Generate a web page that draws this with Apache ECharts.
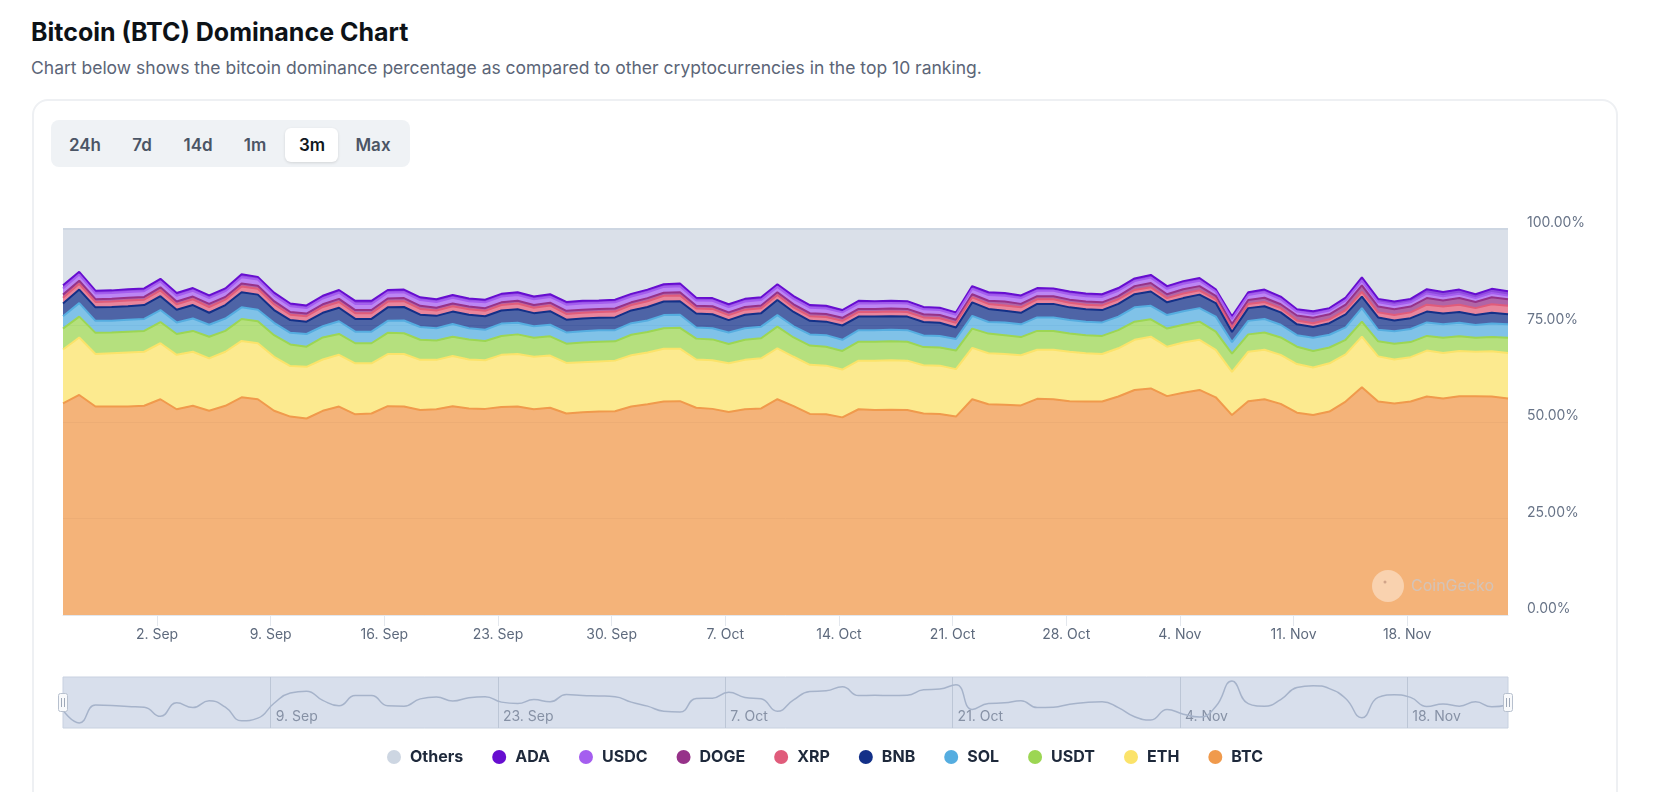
<!DOCTYPE html>
<html><head><meta charset="utf-8">
<script src="https://cdn.jsdelivr.net/npm/echarts@6/dist/echarts.min.js"></script>
<style>
html,body{margin:0;padding:0;background:#fff;width:1668px;height:792px;overflow:hidden;font-family:Inter,"Noto Sans",sans-serif;}
#title{position:absolute;left:31px;top:16px;font-size:25px;line-height:32px;font-weight:700;color:#0d1217;white-space:nowrap}
#sub{position:absolute;left:31px;top:56px;font-size:17.5px;line-height:24px;color:#5b6577;white-space:nowrap}
#card{position:absolute;left:32px;top:99px;width:1586px;height:800px;border:2px solid #eef0f3;border-radius:16px;box-sizing:border-box}
#btns{position:absolute;left:51px;top:120px;width:359px;height:47px;background:#eff2f5;border-radius:8px}
#act{position:absolute;left:285px;top:128px;width:53px;height:34px;background:#fff;border-radius:6px;box-shadow:0 1px 3px rgba(0,0,0,0.12)}
.b{position:absolute;top:145px;transform:translate(-50%,-50%);font-size:17px;font-weight:600;color:#4b5565;white-space:nowrap}
#chart{position:absolute;left:0;top:0;width:1668px;height:792px}
</style></head>
<body>
<div id="title">Bitcoin (BTC) Dominance Chart</div>
<div id="sub">Chart below shows the bitcoin dominance percentage as compared to other cryptocurrencies in the top 10 ranking.</div>
<div id="card"></div>
<div id="btns"></div>
<div id="act"></div>
<div class="b" style="left:85px">24h</div>
<div class="b" style="left:142px">7d</div>
<div class="b" style="left:198px">14d</div>
<div class="b" style="left:255px">1m</div>
<div class="b" style="left:312px;color:#0f1720">3m</div>
<div class="b" style="left:373px">Max</div>
<div id="chart"></div>
<script>
// ---- data (daily, 27 Aug 2024 - 24 Nov 2024), dominance in % ----
const START_DAY = '2024-08-27';
const BTC = [54.8,57.0,54.0,54.0,54.0,54.2,55.9,53.3,54.2,52.9,
54.2,56.4,55.9,52.9,51.4,50.9,52.9,54.0,52.0,52.2,
54.1,54.0,53.1,53.3,54.1,53.5,53.4,53.9,54.0,53.3,
53.7,52.2,52.5,52.7,52.8,54.0,54.6,55.3,55.4,53.7,
53.4,52.6,53.3,53.5,55.9,54.1,52.1,52.0,51.2,53.3,
53.1,53.2,53.1,52.2,52.1,51.4,55.9,54.6,54.5,54.3,
56.0,55.9,55.4,55.3,55.3,56.6,58.3,58.7,56.7,57.6,
58.3,56.4,51.8,55.4,55.9,54.7,52.4,51.8,52.7,55.3,
59.0,55.3,54.8,55.3,56.6,56.1,56.7,56.7,56.6,56.1];
const ETH = [14.0,14.9,13.6,13.8,14.0,14.0,14.5,14.1,14.0,13.6,
14.0,14.6,14.5,14.0,13.1,13.4,13.3,13.4,13.2,13.0,
13.5,13.6,13.0,12.8,13.0,12.7,12.6,13.5,13.6,13.6,
13.5,13.1,13.0,13.0,13.1,13.3,13.4,13.7,13.6,12.5,
12.6,12.6,12.8,13.0,13.2,12.8,12.7,12.6,12.4,12.6,
12.8,12.8,12.8,12.5,12.5,12.3,13.3,13.2,13.1,13.0,
12.7,12.8,12.8,12.5,12.3,12.5,13.0,13.4,12.8,13.0,
13.0,12.3,11.2,12.8,12.8,12.7,12.6,12.3,12.5,12.2,
13.1,11.7,11.4,11.5,11.9,11.8,11.7,11.5,11.7,11.8];
const USDT = [5.4,5.4,5.5,5.4,5.4,5.4,5.5,5.4,5.4,5.6,
5.4,5.7,5.7,5.6,5.6,5.2,5.7,5.4,5.2,5.2,
5.5,5.4,5.2,5.0,5.0,5.2,5.0,4.9,5.1,4.9,
5.0,5.0,5.1,5.1,5.0,5.3,5.3,5.3,5.4,5.4,
5.4,5.0,5.2,5.2,5.6,5.0,5.0,4.9,4.8,4.9,
4.9,4.9,4.9,4.7,4.7,4.8,5.0,5.1,4.9,4.7,
4.9,4.9,4.7,4.7,4.7,4.7,4.7,4.5,4.7,4.6,
4.7,4.7,4.7,4.5,4.5,4.5,4.5,4.3,4.1,3.8,
3.9,3.9,4.1,3.9,3.8,3.9,3.8,3.6,3.7,3.9];
const SOL = [3.2,3.5,3.1,3.0,3.1,3.1,3.1,3.0,3.2,3.1,
3.2,3.0,3.0,3.2,3.0,3.3,2.9,3.3,3.0,3.0,
3.1,3.3,3.3,3.2,3.3,2.9,2.9,3.2,3.0,3.0,
3.0,2.9,2.9,3.0,2.9,3.0,3.0,3.4,3.4,2.9,
2.9,3.0,3.0,3.0,3.0,2.9,2.9,3.0,2.9,3.0,
3.0,3.0,3.0,3.0,3.0,3.0,3.3,3.0,3.3,3.3,
3.5,3.5,3.5,3.5,3.5,3.5,3.7,3.5,3.5,3.5,
3.5,3.9,3.0,3.5,3.5,3.3,3.0,3.4,3.3,3.2,
3.5,3.0,3.2,3.4,3.5,3.5,3.5,3.3,3.5,3.5];
const BNB = [3.3,3.5,3.5,3.6,3.5,3.6,3.6,3.3,3.5,3.1,
3.5,3.9,3.9,3.3,3.3,3.2,3.5,3.5,3.3,3.3,
3.5,3.5,3.2,3.2,3.2,3.5,3.5,3.4,3.5,3.4,
3.5,3.3,3.3,3.2,3.3,3.3,3.5,3.5,3.5,3.6,
3.6,3.2,3.5,3.5,3.9,3.7,3.5,3.5,3.7,3.5,
3.5,3.5,3.5,3.5,3.4,3.0,3.5,3.4,3.0,3.0,
3.5,3.5,3.3,3.2,3.2,3.3,3.4,3.7,3.3,3.4,
3.5,3.5,2.6,3.3,3.3,3.2,2.8,2.8,3.0,3.4,
3.0,3.2,2.8,2.8,2.8,2.8,2.8,2.6,2.8,2.6];
const XRP = [1.5,1.5,1.4,1.4,1.5,1.4,1.5,1.4,1.5,1.5,
1.4,1.5,1.5,1.5,1.4,1.4,1.5,1.5,1.5,1.5,
1.5,1.5,1.5,1.4,1.4,1.4,1.4,1.4,1.5,1.4,
1.5,1.5,1.5,1.5,1.5,1.4,1.5,1.5,1.5,1.3,
1.4,1.3,1.3,1.3,1.3,1.2,1.2,1.2,1.2,1.2,
1.2,1.2,1.2,1.2,1.2,1.2,1.3,1.3,1.4,1.4,
1.2,1.2,1.2,1.2,1.2,1.2,1.1,1.1,1.1,1.2,
1.1,1.0,1.1,1.1,1.1,1.1,1.0,1.0,1.0,1.1,
1.2,1.3,1.4,1.5,1.8,1.8,1.9,1.8,2.2,2.2];
const DOGE = [0.8,0.8,0.7,0.7,0.7,0.7,0.8,0.7,0.7,0.8,
0.7,0.8,0.8,0.8,0.7,0.7,0.7,0.8,0.8,0.8,
0.8,0.8,0.8,0.7,0.7,0.7,0.7,0.7,0.7,0.7,
0.7,0.8,0.8,0.8,0.8,0.7,0.8,0.8,0.8,0.7,
0.7,0.7,0.7,0.7,0.7,0.8,0.8,0.8,0.8,0.8,
0.8,0.8,0.8,0.8,0.8,0.8,0.8,0.8,1.0,0.9,
0.8,0.8,0.8,0.8,0.8,0.8,1.0,1.1,1.0,1.1,
1.1,0.9,1.0,1.0,1.1,1.0,1.3,1.4,1.3,1.4,
1.7,1.5,1.5,1.5,1.7,1.6,1.7,1.6,1.8,1.7];
const USDC = [1.6,1.6,1.5,1.5,1.5,1.5,1.5,1.5,1.5,1.5,
1.5,1.6,1.6,1.5,1.5,1.4,1.5,1.6,1.6,1.6,
1.5,1.5,1.5,1.5,1.5,1.4,1.5,1.5,1.5,1.5,
1.5,1.6,1.6,1.5,1.6,1.5,1.5,1.5,1.6,1.4,
1.4,1.4,1.4,1.4,1.4,1.4,1.4,1.4,1.4,1.4,
1.4,1.4,1.4,1.3,1.3,1.3,1.4,1.5,1.5,1.5,
1.4,1.4,1.4,1.4,1.4,1.4,1.3,1.4,1.4,1.4,
1.4,1.1,1.3,1.3,1.4,1.3,1.0,1.0,1.0,1.1,
1.2,1.1,1.1,1.1,1.2,1.1,1.1,1.0,1.1,1.0];
const ADA = [0.8,0.7,0.7,0.7,0.7,0.7,0.7,0.7,0.7,0.7,
0.7,0.8,0.7,0.7,0.7,0.7,0.7,0.7,0.8,0.8,
0.7,0.7,0.7,0.7,0.7,0.7,0.7,0.7,0.7,0.7,
0.7,0.7,0.7,0.7,0.7,0.7,0.7,0.7,0.7,0.7,
0.7,0.7,0.7,0.7,0.7,0.7,0.7,0.7,0.6,0.7,
0.6,0.6,0.6,0.6,0.6,0.6,0.7,0.7,0.7,0.7,
0.7,0.6,0.7,0.7,0.7,0.7,0.7,0.7,0.7,0.7,
0.7,0.6,0.7,0.7,0.7,0.7,0.6,0.7,0.6,0.7,
0.9,0.9,0.9,0.9,1.1,1.1,1.1,1.0,1.1,1.1];
const OTHERS = [14.6,11.1,16.0,15.9,15.6,15.4,12.9,16.6,15.3,17.2,
15.4,11.7,12.4,16.5,19.3,19.8,17.3,15.8,18.6,18.6,
15.8,15.7,17.7,18.2,17.1,18.0,18.3,16.8,16.4,17.5,
16.9,18.9,18.6,18.5,18.3,16.8,15.7,14.3,14.1,17.8,
17.9,19.5,18.1,17.7,14.3,17.4,19.7,19.9,21.0,18.6,
18.7,18.6,18.7,20.2,20.4,21.6,14.8,16.4,16.6,17.2,
15.3,15.4,16.2,16.7,16.9,15.3,12.8,11.9,14.8,13.5,
12.7,15.6,22.6,16.4,15.7,17.5,20.8,21.3,20.5,17.8,
12.5,18.1,18.8,18.1,15.6,16.3,15.7,16.9,15.5,16.1];
const X_TICKS = ['2024-09-02','2024-09-09','2024-09-16','2024-09-23','2024-09-30','2024-10-07',
  '2024-10-14','2024-10-21','2024-10-28','2024-11-04','2024-11-11','2024-11-18'];
const NAV_TICKS = ['2024-09-09','2024-09-23','2024-10-07','2024-10-21','2024-11-04','2024-11-18'];
const Y_TICKS = [0, 25, 50, 75, 100];
const LEGEND_ORDER = ['Others','ADA','USDC','DOGE','XRP','BNB','SOL','USDT','ETH','BTC'];

// ---- build ----
const DAY = 86400000;
const t0 = Date.parse(START_DAY + 'T05:00:00Z');
const times = BTC.map((_, i) => t0 + i * DAY);
const toTs = d => Date.parse(d + 'T00:00:00Z');
const xTicks = X_TICKS.map(toTs);
const navTicks = NAV_TICKS.map(toTs);
const MONTHS = ['Jan','Feb','Mar','Apr','May','Jun','Jul','Aug','Sep','Oct','Nov','Dec'];
const fmtDate = v => { const d = new Date(v); return d.getUTCDate() + '. ' + MONTHS[d.getUTCMonth()]; };

const stackDefs = [
  ['BTC', BTC, '#F09A4C'],
  ['ETH', ETH, '#FBE36A'],
  ['USDT', USDT, '#9CD653'],
  ['SOL', SOL, '#55ADE0'],
  ['BNB', BNB, '#133088'],
  ['XRP', XRP, '#E05C7B'],
  ['DOGE', DOGE, '#963289'],
  ['USDC', USDC, '#A55EEF'],
  ['ADA', ADA, '#670ED0'],
  ['Others', OTHERS, '#CDD6E2']
];

// value first, time second: stacking is done on the first numeric dimension (y)
const series = stackDefs.map(([name, vals, color], k) => ({
  name, type: 'line', stack: 'dom', xAxisIndex: 0, yAxisIndex: 0,
  data: times.map((t, i) => [vals[i], t]),
  encode: { x: 1, y: 0 },
  symbol: 'none', showSymbol: false,
  lineStyle: { width: 2, color },
  itemStyle: { color },
  areaStyle: { color, opacity: 0.75 },
  z: 20 - k,
  emphasis: { disabled: true },
  silent: true
}));

series.push({
  name: 'nav', type: 'line', xAxisIndex: 1, yAxisIndex: 1,
  data: times.map((t, i) => [t, OTHERS[i]]),
  smooth: true, symbol: 'none', showSymbol: false,
  lineStyle: { width: 1.5, color: '#a6b3ca' },
  silent: true, z: 5
});

const FONT = 'Inter';
const option = {
  animation: false,
  textStyle: { fontFamily: FONT },
  grid: [
    { left: 63, top: 229, width: 1445, height: 386, containLabel: false },
    { left: 63, top: 677, width: 1445, height: 51, show: true, backgroundColor: '#d8dfec', borderColor: '#c8d1e0', borderWidth: 1 }
  ],
  xAxis: [
    {
      type: 'value', gridIndex: 0, min: times[0], max: times[times.length - 1],
      axisLine: { show: true, lineStyle: { color: '#e3e7ed', width: 1 } },
      axisTick: { show: true, customValues: xTicks, length: 11, lineStyle: { color: '#e3e7ed' } },
      axisLabel: { customValues: xTicks, formatter: fmtDate, color: '#5e6a7d', fontSize: 14, fontFamily: FONT, margin: 13 },
      splitLine: { show: false }
    },
    {
      type: 'value', gridIndex: 1, min: times[0], max: times[times.length - 1],
      axisLine: { show: false },
      axisTick: { show: true, customValues: navTicks, inside: true, length: 51, lineStyle: { color: '#bcc6d6' } },
      axisLabel: { customValues: navTicks, inside: true, formatter: fmtDate, align: 'left', margin: 4,
        color: '#8691a5', fontSize: 14, fontFamily: FONT, padding: [0, 0, 0, 5] },
      splitLine: { show: false }
    }
  ],
  yAxis: [
    {
      type: 'value', gridIndex: 0, position: 'right', min: Y_TICKS[0], max: Y_TICKS[Y_TICKS.length - 1], interval: 25,
      axisLine: { show: false }, axisTick: { show: false },
      axisLabel: { formatter: v => v.toFixed(2) + '%', color: '#677387', fontSize: 14, fontFamily: FONT,
        margin: 19, verticalAlign: 'bottom', lineHeight: 12, align: 'left' },
      splitLine: { show: true, lineStyle: { color: '#e4e8ee' } }
    },
    {
      type: 'value', gridIndex: 1, show: false, scale: true,
      min: v => v.min - 1.4, max: v => v.max + 1.1,
      splitLine: { show: false }
    }
  ],
  legend: {
    data: LEGEND_ORDER, icon: 'circle', itemWidth: 14, itemHeight: 14, itemGap: 29,
    left: 387, top: 749, padding: 0, selectedMode: false,
    textStyle: { fontSize: 16, fontWeight: 700, color: '#1e293b', fontFamily: FONT, padding: [0, 0, 0, 4] }
  },
  graphic: [
    { type: 'circle', shape: { cx: 1388, cy: 586, r: 16 }, style: { fill: 'rgba(255,255,255,0.4)' }, z: 100, silent: true },
    { type: 'circle', shape: { cx: 1385, cy: 582, r: 1.5 }, style: { fill: 'rgba(170,120,100,0.5)' }, z: 101, silent: true },
    { type: 'text', x: 1411, y: 586, style: { text: 'CoinGecko', font: '16px Inter', fill: 'rgba(200,200,205,0.75)', verticalAlign: 'middle' }, z: 100, silent: true },
    { type: 'rect', shape: { x: 58.5, y: 693.5, width: 9, height: 18, r: 2 }, style: { fill: '#f8f9fb', stroke: '#b7c0ce', lineWidth: 1 }, z: 100, silent: true },
    { type: 'line', shape: { x1: 61.5, y1: 698, x2: 61.5, y2: 707 }, style: { stroke: '#9ea8b8', lineWidth: 1 }, z: 101, silent: true },
    { type: 'line', shape: { x1: 64.5, y1: 698, x2: 64.5, y2: 707 }, style: { stroke: '#9ea8b8', lineWidth: 1 }, z: 101, silent: true },
    { type: 'rect', shape: { x: 1503.5, y: 693.5, width: 9, height: 18, r: 2 }, style: { fill: '#f8f9fb', stroke: '#b7c0ce', lineWidth: 1 }, z: 100, silent: true },
    { type: 'line', shape: { x1: 1506.5, y1: 698, x2: 1506.5, y2: 707 }, style: { stroke: '#9ea8b8', lineWidth: 1 }, z: 101, silent: true },
    { type: 'line', shape: { x1: 1509.5, y1: 698, x2: 1509.5, y2: 707 }, style: { stroke: '#9ea8b8', lineWidth: 1 }, z: 101, silent: true }
  ],
  series
};
const chart = echarts.init(document.getElementById('chart'), null, { renderer: 'canvas' });
chart.setOption(option);
</script>
</body></html>
